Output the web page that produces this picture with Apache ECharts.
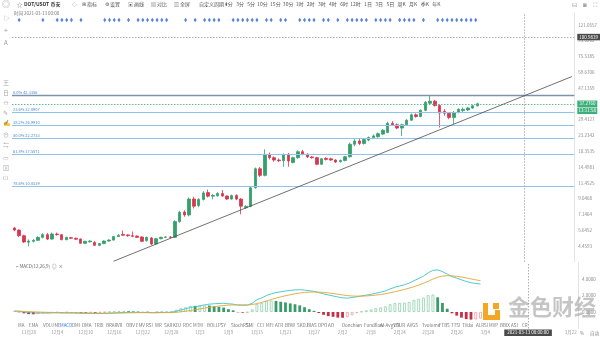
<!DOCTYPE html>
<html><head><meta charset="utf-8">
<script src="https://cdn.jsdelivr.net/npm/echarts@6/dist/echarts.min.js"></script>
<style>html,body{margin:0;padding:0;background:#fff}#c{width:600px;height:337px}</style>
</head><body><div id="c"></div>
<script>
const FF = '"Noto Sans CJK SC","Noto Sans",sans-serif';
// ---- categories: daily candles from 2020-11-25, axis runs into the future ----
const startDay = Date.UTC(2020, 10, 25);
const dayCount = 119;
const dates = [];
for (let i = 0; i < dayCount; i++) { const d = new Date(startDay + i * 86400000); dates.push((d.getUTCMonth() + 1) + '/' + d.getUTCDate()); }

// ---- OHLC (DOT/USDT daily) ----
const opens  = [5.83,5.65,5.20,4.72,4.78,4.85,5.07,5.28,4.94,5.33,5.28,4.90,5.05,5.00,4.94,4.64,4.74,4.70,4.50,4.62,4.80,4.87,5.13,5.30,5.26,5.20,5.17,5.10,4.83,5.02,4.60,4.97,5.07,5.10,5.07,6.42,7.40,7.09,8.99,8.15,8.94,9.90,9.38,9.44,9.76,9.40,8.99,9.48,8.99,7.90,8.05,10.63,14.13,12.80,17.53,16.68,16.10,15.95,17.53,15.50,16.68,18.23,17.53,16.85,16.68,15.11,16.50,16.40,16.10,15.70,16.00,16.91,20.37,21.40,20.60,21.68,22.50,22.80,23.70,24.26,27.88,27.24,25.95,27.24,29.18,31.60,30.82,33.80,37.58,38.76,36.30,33.30,32.40,30.35,32.77,33.70,34.00,35.00,36.17];
const closes = [5.65,5.20,4.73,4.80,4.85,5.07,5.28,4.94,5.33,5.28,4.90,5.07,5.00,4.93,4.64,4.78,4.80,4.50,4.62,4.80,4.87,5.13,5.23,5.23,5.20,5.15,5.07,4.78,5.07,4.59,4.97,5.07,5.10,5.07,6.42,7.38,7.09,8.99,8.08,8.94,9.85,9.38,9.48,9.76,9.40,8.99,9.46,8.99,8.08,8.05,10.63,14.13,12.80,17.53,16.68,16.10,15.95,17.43,15.86,16.68,18.23,17.53,16.85,16.68,15.11,16.40,16.25,16.10,15.63,16.00,16.91,20.37,21.40,20.60,21.85,22.50,23.07,23.87,25.12,27.88,27.24,25.95,27.24,29.18,31.60,30.82,33.80,38.18,38.76,36.30,32.47,32.40,30.35,32.77,34.30,34.30,35.00,36.17,37.27];
const lows   = [5.55,5.10,4.66,4.4342,4.70,4.80,5.00,4.88,4.90,5.20,4.85,4.85,4.95,4.88,4.60,4.60,4.70,4.46,4.45,4.58,4.76,4.84,5.10,5.18,5.12,5.08,5.02,4.72,4.75,4.53,4.55,4.92,5.02,5.03,5.02,6.30,6.90,6.95,7.80,7.95,8.80,9.20,8.94,9.30,9.30,8.85,8.90,8.85,7.15,7.75,7.95,10.50,12.50,12.60,16.20,15.70,15.60,14.56,14.56,15.30,16.40,17.30,16.60,16.40,14.90,14.95,16.00,15.90,15.40,15.50,15.80,16.70,19.80,20.10,20.30,21.30,22.20,22.50,23.40,24.00,26.80,25.50,23.07,26.90,28.90,30.30,30.50,33.40,36.90,35.80,26.15,31.20,29.60,27.60,32.30,33.00,33.50,34.60,35.90];
const highs  = [5.93,5.72,5.28,4.92,4.95,5.15,5.40,5.42,5.45,5.45,5.33,5.12,5.10,5.05,5.00,4.82,4.86,4.80,4.66,4.85,4.92,5.18,5.33,5.61,5.32,5.53,5.22,5.15,5.12,5.10,5.02,5.12,5.15,5.15,6.55,7.55,7.60,9.20,9.30,9.10,10.11,10.35,9.70,9.95,10.28,9.50,9.60,9.65,9.10,8.20,10.80,14.40,14.50,18.90,18.00,17.00,16.50,17.80,17.90,16.90,18.60,18.70,17.80,17.10,16.90,16.60,16.80,16.70,16.30,16.20,17.10,20.90,22.00,22.10,22.40,22.90,23.60,24.30,25.60,28.50,28.80,27.80,27.70,29.60,32.20,32.30,34.30,38.80,42.3356,39.50,37.00,34.50,33.00,33.50,34.90,35.30,35.60,36.70,37.90];

// ---- MACD(12,26,9) ----
const macdDif = [0.12,0.08,0.00,-0.08,-0.12,-0.13,-0.12,-0.13,-0.11,-0.10,-0.12,-0.12,-0.12,-0.13,-0.16,-0.17,-0.17,-0.19,-0.19,-0.17,-0.15,-0.11,-0.08,-0.06,-0.05,-0.05,-0.05,-0.07,-0.06,-0.09,-0.08,-0.06,-0.05,-0.04,0.10,0.25,0.38,0.55,0.65,0.75,0.87,0.95,1.00,1.03,1.06,1.00,0.95,0.84,0.82,0.83,1.05,1.50,1.70,2.00,2.20,2.35,2.45,2.55,2.62,2.68,2.70,2.66,2.58,2.50,2.35,2.20,2.06,1.95,1.82,1.72,1.68,1.75,1.85,1.95,2.05,2.15,2.28,2.40,2.55,2.80,3.00,3.15,3.30,3.50,3.80,4.05,4.35,4.75,5.05,5.10,4.90,4.60,4.30,4.10,3.90,3.70,3.55,3.45,3.40];
const macdDea = [0.10,0.10,0.08,0.05,0.02,-0.01,-0.03,-0.05,-0.06,-0.07,-0.08,-0.09,-0.09,-0.10,-0.11,-0.12,-0.13,-0.14,-0.15,-0.15,-0.15,-0.14,-0.13,-0.12,-0.10,-0.09,-0.08,-0.08,-0.08,-0.08,-0.08,-0.08,-0.07,-0.07,-0.04,0.02,0.09,0.18,0.28,0.37,0.47,0.56,0.65,0.72,0.79,0.83,0.85,0.86,0.86,0.86,0.90,1.02,1.16,1.33,1.51,1.68,1.83,1.97,2.10,2.21,2.30,2.37,2.41,2.43,2.41,2.37,2.31,2.24,2.16,2.07,1.99,1.94,1.92,1.93,1.95,1.99,2.05,2.12,2.21,2.33,2.46,2.60,2.74,2.89,3.07,3.26,3.48,3.73,3.99,4.21,4.35,4.40,4.38,4.32,4.24,4.13,4.01,3.90,3.80];
const macdHist = [0.04,-0.04,-0.16,-0.26,-0.28,-0.24,-0.18,-0.16,-0.10,-0.06,-0.08,-0.06,-0.06,-0.06,-0.10,-0.10,-0.08,-0.10,-0.08,-0.04,0.00,0.06,0.10,0.12,0.10,0.08,0.06,0.02,0.04,-0.02,0.00,0.04,0.04,0.06,0.28,0.46,0.58,0.74,0.74,0.76,0.80,0.78,0.70,0.62,0.54,0.34,0.20,-0.04,-0.08,-0.06,0.30,0.96,1.08,1.34,1.38,1.34,1.24,1.16,1.04,0.94,0.80,0.58,0.34,0.14,-0.12,-0.34,-0.50,-0.58,-0.68,-0.70,-0.62,-0.38,-0.14,0.04,0.20,0.32,0.46,0.56,0.68,0.94,1.08,1.10,1.12,1.22,1.46,1.58,1.74,2.04,2.12,1.78,1.10,0.40,-0.16,-0.44,-0.68,-0.86,-0.92,-0.90,-0.80];

// ---- drawings ----
const fibNames  = ['0.0%','23.6%','38.2%','50.0%','61.8%','78.6%'];
const fibPrices = [42.3356,32.8907,26.9910,22.2733,17.5571,10.8339];
const trendLine = [[21, 3.55], [118, 56.0]];
const lastPrice = 37.2760;
const countdown = '13:11:58';
const crossPrice = 100.9839;
const crossIndex = 108;
const crossTime = '2021-03-13 08:00:00';
const signalIdx = [1,6,9,10,11,12,14,19,20,21,22,24,26,27,28,29,30,31,32,36,38,40,41,42,43,46,47,48,49,50,51,53,54,56,57,60,61,62,63,65,66,68,70,71,72,73,74,76,77,78,79,81,82,83,84,86,89,90,91,92,93,94,95,96,97];
const priceTickBase = 4.4558;
const priceTickRatio = 1.265926;
const indicatorNames = [['MA',18],['EMA',29],['VOLUME',43],['MACD',60],['DMI',72],['DMA',82],['TRIX',94],['BRAR',106],['VR',117],['OBV',126],['EMV',136],['RSI',146],['WR',155],['SAR',164],['KDJ',173],['ROC',183],['MTM',193],['BOLL',207],['PSY',218],['StochRSI',231],['SMI',246],['CCI',257],['MFI',266],['ATR',275],['BBW',285],['SKDJ',297],['BIAS',307],['DPO',318],['AO',328],['Donchian',342],['Fundflow',364],['AI-AvgVOL',380],['LSUR',394],['AVGS',407],['Tvolume',422],['FTBS',439],['TTSI',451],['TVdsi',462],['ALRSI',476],['MVP',489],['BBIX',500],['ASI',511],['CR',522]];

const UP = '#35a06b', DOWN = '#d7374f';
const candleData = opens.map((o, i) => [o, closes[i], lows[i], highs[i]]);
const histData = macdHist.map((v, i) => {
  const prev = i > 0 ? macdHist[i - 1] : v;
  const rising = v > prev;
  const pos = v >= 0;
  const c = pos ? (rising ? '#8fd0ad' : '#3a9a6a') : (rising ? '#eaa0aa' : '#c42f45');
  return { value: v, itemStyle: rising ? { color: '#fff', borderColor: c, borderWidth: 0.8 } : { color: c } };
});

const fibLines = fibPrices.map((p, k) => ({
  yAxis: p,
  lineStyle: k === 0 ? { color: '#7d93a8', width: 1.4, type: 'solid' } : { color: '#8ec3ea', width: 1, type: 'solid' },
  label: { show: true, position: 'insideStartTop', distance: 1, formatter: fibNames[k] + ' ' + p.toFixed(4), color: '#4f86d0', fontSize: 4, fontFamily: FF }
}));

const G = (x, y, t, o) => ({ type: 'text', left: x, top: y, silent: true, z: 100, style: Object.assign({ text: t, fontSize: 5, fill: '#666', fontFamily: FF }, o || {}) });
const graphics = [
  G(2, 0, '◎', { fontSize: 8, fill: '#aaa' }),
  G(17, 2, '☆', { fontSize: 5.5, fill: '#777' }),
  G(24, 2, 'DOT/USDT 币安', { fontSize: 5, fill: '#333', fontWeight: 'bold' }),
  G(72, 2, '◇', { fontSize: 5, fill: '#888' }),
  G(82, 2, '⊞ 指标', { fontSize: 5, fill: '#555' }),
  G(105, 2, '⚙ 设置', { fontSize: 5, fill: '#555' }),
  G(128, 2, '▣ 画线', { fontSize: 5, fill: '#555' }),
  G(151, 2, '▤ 对比', { fontSize: 5, fill: '#555' }),
  G(174, 2, '▥ 全屏', { fontSize: 5, fill: '#555' }),
  G(199, 2, '自定义周期 ▾', { fontSize: 5, fill: '#555' }),
  G(225, 2, '1分   3分   5分  10分  15分  30分  1时   2时   3时   4时   6时  12时   1日   3日   5日   周K   月K   季K   年K', { fontSize: 5, fill: '#555' }),
  G(14, 11, '时间 2021-03-13 00:00', { fontSize: 4.5, fill: '#777' }),
  G(572, 2, '⊟', { fontSize: 6, fill: '#999' }),
  G(583, 2, '◙', { fontSize: 6, fill: '#999' }),
  G(593, 2, '⛶', { fontSize: 6, fill: '#999' }),
  G(4, 15, '▷', { fontSize: 6, fill: '#999' }),
  G(4, 27, '+', { fontSize: 7, fill: '#999' }),
  G(4, 40, 'A', { fontSize: 6, fill: '#999' }),
  G(3, 80, '王', { fontSize: 6, fill: '#aaa' }),
  G(3, 90, '日', { fontSize: 6, fill: '#aaa' }),
  G(3, 100, '⏛', { fontSize: 6, fill: '#aaa' }),
  G(3, 110, '✎', { fontSize: 6, fill: '#aaa' }),
  G(3, 120, '✍', { fontSize: 6, fill: '#aaa' }),
  G(3, 132, '⊖', { fontSize: 6, fill: '#aaa' }),
  G(3, 142, '⇋', { fontSize: 6, fill: '#aaa' }),
  G(3, 155, '▭', { fontSize: 6, fill: '#aaa' }),
  G(3, 165, '⊠', { fontSize: 6, fill: '#aaa' }),
  G(3, 175, '⊡', { fontSize: 6, fill: '#aaa' }),
  G(16, 264, '⌐ MACD(12,26,9)  ◎  ×', { fontSize: 4.5, fill: '#666' }),
  G(580, 331, '%', { fontSize: 4.5, fill: '#888' }),
  G(590, 331, '自动', { fontSize: 4.5, fill: '#888' }),
  // watermark
  { type: 'rect', silent: true, z: 100, shape: { x: 483, y: 303, width: 5, height: 17 }, style: { fill: '#f5a623' } },
  { type: 'rect', silent: true, z: 100, shape: { x: 483, y: 315, width: 17, height: 5 }, style: { fill: '#f5a623' } },
  { type: 'rect', silent: true, z: 100, shape: { x: 493, y: 303, width: 6, height: 6 }, style: { fill: '#f5a623' } },
  { type: 'rect', silent: true, z: 100, shape: { x: 495, y: 310, width: 5, height: 7 }, style: { fill: '#f5a623' } },
  G(508, 296, '金色财经', { fontSize: 22, fill: 'rgba(150,150,150,0.55)', fontWeight: 'bold' })
].concat(indicatorNames.map(([n, x]) => G(x, 323, n, { fontSize: 4.5, fill: n === 'MACD' ? '#3b78e7' : '#777', align: 'center' })));

const chart = echarts.init(document.getElementById('c'), null, { renderer: 'canvas' });
chart.setOption({
  animation: false,
  backgroundColor: '#fff',
  textStyle: { fontFamily: FF },
  graphic: graphics,
  grid: [
    { left: 12, right: 22, top: 13, bottom: 337 - 261.8 },
    { left: 12, right: 22, top: 262.5, bottom: 8.5 },
    { left: 12, right: 22, top: 17, height: 6 }
  ],
  xAxis: [
    { type: 'category', gridIndex: 0, data: dates, boundaryGap: true, axisLine: { show: false }, axisTick: { show: false }, axisLabel: { show: false }, splitLine: { show: false } },
    { type: 'category', gridIndex: 1, data: dates, boundaryGap: true, axisLine: { show: false }, axisTick: { show: false }, splitLine: { show: false },
      axisLabel: { fontSize: 4.5, color: '#999', margin: 1.5, interval: (i) => (i - 3) % 6 === 0, formatter: (v) => { const [m, d] = v.split('/'); return m + '月' + d; } } },
    { type: 'category', gridIndex: 2, data: dates, show: false }
  ],
  yAxis: [
    { type: 'log', gridIndex: 0, logBase: priceTickRatio, min: priceTickBase / priceTickRatio, max: 144.7, interval: 1, splitNumber: 16, position: 'right',
      axisLine: { show: true, lineStyle: { color: '#e4e4e4' } }, axisTick: { show: false }, splitLine: { show: false },
      axisLabel: { fontSize: 4.5, color: '#8a8a8a', margin: 4, showMinLabel: false, showMaxLabel: false, formatter: (v) => v.toFixed(4) } },
    { type: 'value', gridIndex: 1, min: -2, max: 6, interval: 2, position: 'right',
      axisLine: { show: true, lineStyle: { color: '#e4e4e4' } }, axisTick: { show: false }, splitLine: { show: false },
      axisLabel: { fontSize: 4.5, color: '#8a8a8a', margin: 4, showMinLabel: false, showMaxLabel: false, formatter: (v) => v.toFixed(4) } },
    { type: 'value', gridIndex: 2, min: 0, max: 2, show: false }
  ],
  series: [
    { type: 'candlestick', xAxisIndex: 0, yAxisIndex: 0, data: candleData, barWidth: 3,
      itemStyle: { color: UP, color0: DOWN, borderColor: UP, borderColor0: DOWN, borderWidth: 0.8 },
      markPoint: { symbol: 'none', silent: true, data: [
        { type: 'min', valueDim: 'lowest', label: { show: true, position: 'right', distance: 0, formatter: '— 4.4342', color: '#555', fontSize: 4.5, offset: [2, 1] } },
        { type: 'max', valueDim: 'highest', label: { show: true, position: 'left', distance: 0, formatter: '42.3356 —', color: '#555', fontSize: 4.5, offset: [-2, -1] } }
      ] },
      markLine: { symbol: ['none', 'none'], silent: true, animation: false, data: fibLines.concat([
        { yAxis: lastPrice, lineStyle: { color: '#3bb07a', width: 0.8, type: [1.5, 1.5] },
          label: { show: true, position: 'end', distance: 3, padding: [7, 0, 0, 0], formatter: '{a|' + lastPrice.toFixed(4) + '}\n{a|' + countdown + '}',
            rich: { a: { backgroundColor: '#3bb07a', color: '#fff', fontSize: 4.5, padding: [1, 2], lineHeight: 7, width: 16, align: 'center' } } } },
        { yAxis: crossPrice, lineStyle: { color: '#9a9a9a', width: 0.8, type: [1.5, 1.5] },
          label: { show: true, position: 'end', distance: 3, formatter: crossPrice.toFixed(4), backgroundColor: '#4a4a4a', color: '#fff', fontSize: 4.5, padding: [1, 2] } },
        { xAxis: crossIndex, lineStyle: { color: '#9a9a9a', width: 0.8, type: [1.5, 1.5] }, label: { show: false } },
        [ { coord: trendLine[0] }, { coord: trendLine[1], lineStyle: { color: '#4d4d4d', width: 0.8, type: 'solid' }, label: { show: false } } ]
      ]) } },
    { type: 'scatter', xAxisIndex: 2, yAxisIndex: 2, symbol: 'diamond', symbolSize: [3, 4.5], itemStyle: { color: '#2f62d6' }, silent: true,
      data: signalIdx.map((i) => [i, 1]) },
    { type: 'bar', xAxisIndex: 1, yAxisIndex: 1, data: histData, barWidth: 2.8, silent: true,
      markLine: { symbol: ['none', 'none'], silent: true, data: [
        { xAxis: crossIndex, lineStyle: { color: '#9a9a9a', width: 0.8, type: [1.5, 1.5] },
          label: { show: true, position: 'start', distance: 1, formatter: crossTime, backgroundColor: '#4a4a4a', color: '#fff', fontSize: 4.5, padding: [1, 3] } }
      ] } },
    { type: 'line', xAxisIndex: 1, yAxisIndex: 1, data: macdDif, symbol: 'none', lineStyle: { color: '#3cc4c8', width: 0.9 }, silent: true },
    { type: 'line', xAxisIndex: 1, yAxisIndex: 1, data: macdDea, symbol: 'none', lineStyle: { color: '#e0a53a', width: 0.9 }, silent: true }
  ]
});
</script></body></html>
